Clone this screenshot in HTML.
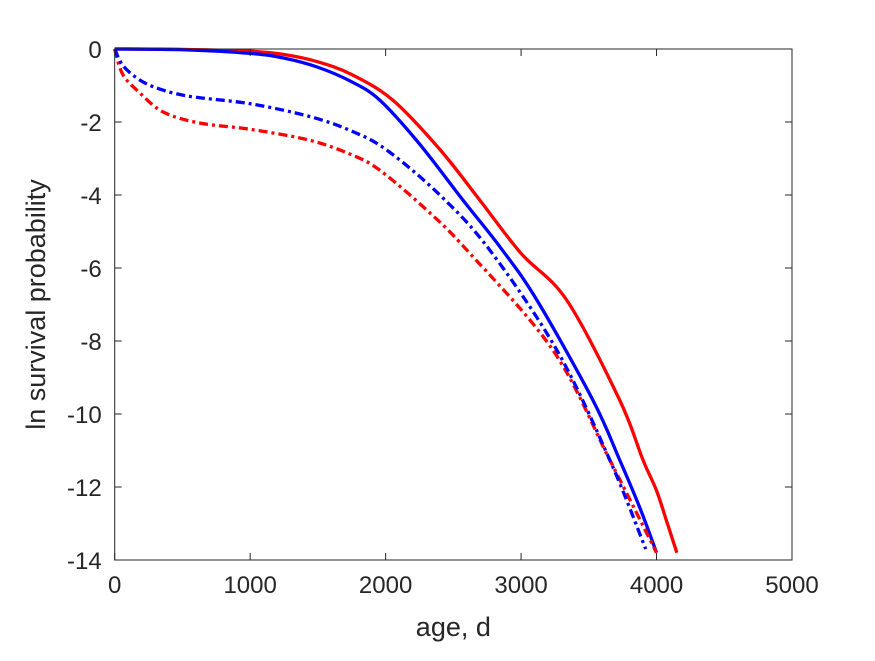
<!DOCTYPE html>
<html><head><meta charset="utf-8"><style>
body{margin:0;background:#fff}
svg text{font-family:"Liberation Sans",Arial,sans-serif;fill:#262626}
</style></head><body>
<svg id="chart" width="875" height="656" viewBox="0 0 875 656" xmlns="http://www.w3.org/2000/svg">
<rect width="875" height="656" fill="#fff"/>
<g id="series"></g>
<g id="axes"></g>
</svg>
<script>
const xTicks=[0,1000,2000,3000,4000,5000];
const yTicks=[0,-2,-4,-6,-8,-10,-12,-14];
const redSolidX=[0,500,1000,1250,1500,1750,2053,2400,2695,3000,3337,3728,3900,4000,4080,4150];
const redSolidY=[0,-0.01,-0.06,-0.15,-0.35,-0.7,-1.4,-2.75,-4.14,-5.6,-6.88,-9.62,-11.26,-12.1,-13.0,-13.8];
const blueSolidX=[0,500,1000,1250,1500,1750,1957,2250,2571,2850,3117,3530,3728,3880,4000];
const blueSolidY=[0,-0.02,-0.12,-0.25,-0.5,-0.9,-1.4,-2.6,-4.14,-5.45,-6.88,-9.62,-11.26,-12.6,-13.8];
const blueDashX=[0,60,185,335,557,1000,1440,1750,2009,2400,2769,3264,3655,3920];
const blueDashY=[0,-0.45,-0.85,-1.1,-1.3,-1.5,-1.85,-2.25,-2.77,-4.0,-5.51,-8.25,-11.26,-13.7];
const redDashX=[0,60,185,360,630,1000,1440,1750,1957,2300,2600,3235,3655,4000];
const redDashY=[0,-0.7,-1.2,-1.73,-2.03,-2.2,-2.5,-2.9,-3.32,-4.4,-5.51,-8.25,-11.26,-13.8];

const L=114.7,R=792,T=49,B=560;
const sx=v=>L+(v-0)/5000*(R-L);
const sy=v=>T+(0-v)/14*(B-T);
const NS="http://www.w3.org/2000/svg";
function mk(tag,attrs,parent){const e=document.createElementNS(NS,tag);for(const k in attrs)e.setAttribute(k,attrs[k]);parent.appendChild(e);return e;}
function pathD(xs,ys){
  const p=xs.map((x,i)=>[sx(x),sy(ys[i])]);
  let d="M"+p[0][0]+","+p[0][1];
  for(let i=0;i<p.length-1;i++){
    const p0=p[i-1]||p[i],p1=p[i],p2=p[i+1],p3=p[i+2]||p2;
    const c1=[p1[0]+(p2[0]-p0[0])/6,p1[1]+(p2[1]-p0[1])/6];
    const c2=[p2[0]-(p3[0]-p1[0])/6,p2[1]-(p3[1]-p1[1])/6];
    d+=" C"+c1+" "+c2+" "+p2;
  }
  return d;
}
const sg=document.getElementById('series');
const defs=[[redSolidX,redSolidY,'#ff0000',null,'red-solid-line'],[blueSolidX,blueSolidY,'#0000ff',null,'blue-solid-line'],
[redDashX,redDashY,'#ff0000','9,4,3,4','red-dashdot-line'],[blueDashX,blueDashY,'#0000ff','9,4,3,4','blue-dashdot-line']];
defs.forEach(s=>{
  const a={d:pathD(s[0],s[1]),fill:'none',stroke:s[2],'stroke-width':3.3};
  if(s[3])a['stroke-dasharray']=s[3];
  const e=mk('path',a,sg);
  
  
});
const ax=document.getElementById('axes');
const box=mk('rect',{x:L,y:T,width:R-L,height:B-T,fill:'none',stroke:'#262626','stroke-width':1},ax);


xTicks.forEach(t=>{
  const x=sx(t);
  mk('line',{x1:x,x2:x,y1:B,y2:B-7,stroke:'#262626'},ax);
  mk('line',{x1:x,x2:x,y1:T,y2:T+7,stroke:'#262626'},ax);
  const tx=mk('text',{x:x,y:B+33,'font-size':24,'text-anchor':'middle'},ax);
  tx.textContent=t;
  
  
});
yTicks.forEach(t=>{
  const y=sy(t);
  mk('line',{x1:L,x2:L+7,y1:y,y2:y,stroke:'#262626'},ax);
  mk('line',{x1:R,x2:R-7,y1:y,y2:y,stroke:'#262626'},ax);
  const tx=mk('text',{x:L-13,y:y+9,'font-size':24,'text-anchor':'end'},ax);
  tx.textContent=t;
  
  
});
const xt=mk('text',{x:(L+R)/2,y:636,'font-size':27,'text-anchor':'middle'},ax);
xt.textContent='age, d';


const yt=mk('text',{x:0,y:0,'font-size':27,'text-anchor':'middle',transform:'translate(45,'+((T+B)/2)+') rotate(-90)'},ax);
yt.textContent='ln survival probability';


</script>
</body></html>
